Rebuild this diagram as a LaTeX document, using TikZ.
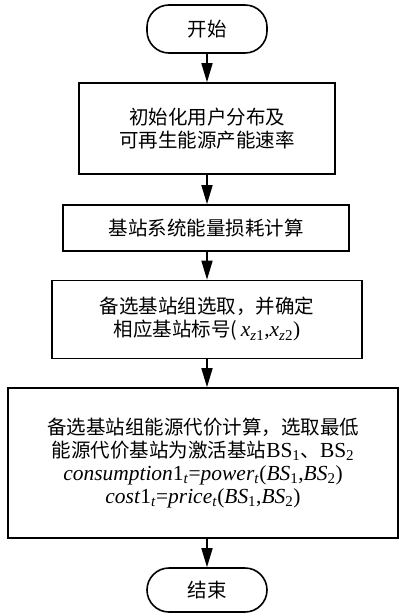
\documentclass[tikz,border=0pt]{standalone}
\usepackage{fontspec}
\setmainfont{Liberation Serif}[Scale=1.1]
\newfontfamily\cjk{Noto Sans CJK SC}
\usetikzlibrary{arrows.meta}
\tikzset{
  box/.style={draw, line width=1.6pt, align=center, inner sep=0pt,
    font=\fontsize{19.5}{23}\selectfont},
  term/.style={box, rounded corners=22pt},
  arr/.style={line width=1.6pt, -{Triangle[width=11pt,length=19pt]}}
}
\begin{document}
\begin{tikzpicture}[x=1pt,y=-1pt]
\useasboundingbox (0,0) rectangle (399,615);
\node[term, minimum width=120pt, minimum height=48pt] (start) at (207,29) {\cjk 开始};
\node[box, minimum width=256pt, minimum height=91pt] (b1) at (207,128.5)
  {\cjk 初始化用户分布及\\ \cjk 可再生能源产能速率};
\node[box, minimum width=286pt, minimum height=46pt] (b2) at (206,228)
  {\cjk 基站系统能量损耗计算};
\node[box, minimum width=310pt, minimum height=78pt] (b3) at (207,319.5)
  {\cjk 备选基站组选取，并确定\\ {\cjk 相应基站标号(}\,\textit{x}\textsubscript{\textit{z}1},\textit{x}\textsubscript{\textit{z}2})};
\node[box, minimum width=390pt, minimum height=150pt] (b4) at (203,463)
  {\cjk 备选基站组能源代价计算，选取最低\\
   {\cjk 能源代价基站为激活基站}BS\textsubscript{1}{\cjk 、}BS\textsubscript{2}\\
   \textit{consumption}1\textsubscript{\textit{t}}=\textit{power}\textsubscript{\textit{t}}(\textit{BS}\textsubscript{1},\textit{BS}\textsubscript{2})\\
   \textit{cost}1\textsubscript{\textit{t}}=\textit{price}\textsubscript{\textit{t}}(\textit{BS}\textsubscript{1},\textit{BS}\textsubscript{2})};
\node[term, minimum width=120pt, minimum height=44pt] (end) at (207,590) {\cjk 结束};
\draw[arr] (start.south) -- (b1.north);
\draw[arr] (b1.south) -- (b1.south |- b2.north);
\draw[arr] (b1.south |- b2.south) -- (b3.north);
\draw[arr] (b3.south) -- (b3.south |- b4.north);
\draw[arr] (b3.south |- b4.south) -- (end.north);
\end{tikzpicture}
\end{document}
